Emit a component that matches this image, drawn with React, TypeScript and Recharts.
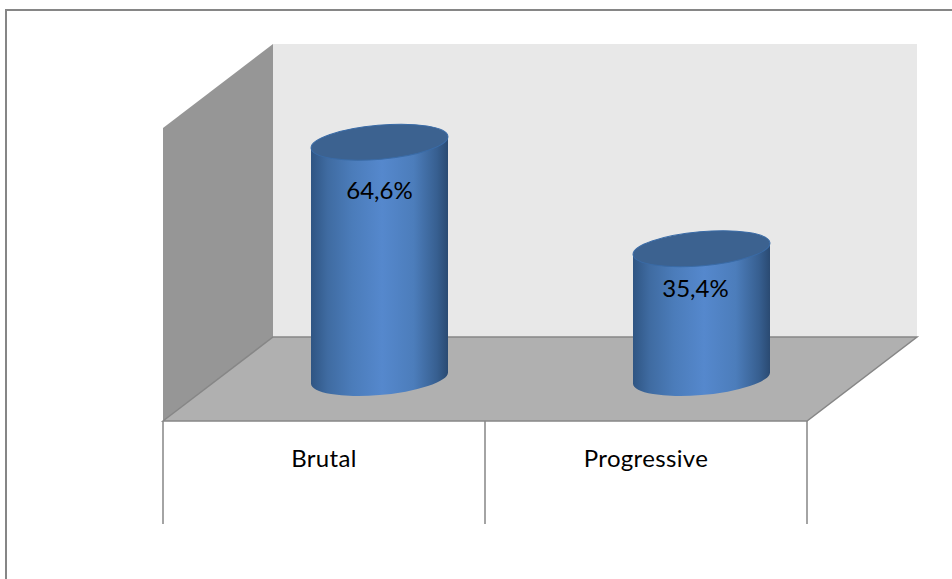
import { Bar, BarChart, Customized, LabelList, XAxis, YAxis } from "recharts";

const categories = ["Brutal", "Progressive"];
const shares = [64.6, 35.4];

const chartData = categories.map((name, i) => ({ name, share: shares[i] }));

const WIDTH = 952;
const HEIGHT = 579;

// the 3D box: front-left corner of the floor, its width, wall height and depth shift
const FRONT_X = 163;
const FRONT_Y = 421;
const BOX_W = 644;
const WALL_H = 293;
const DEPTH_X = 110;
const DEPTH_Y = 84;
const LINE = "#868686";

// bars stand halfway back on the floor, so the plot area sits at half the depth shift
const MARGIN = {
  top: FRONT_Y - DEPTH_Y / 2 - WALL_H,
  left: FRONT_X + DEPTH_X / 2,
  right: WIDTH - (FRONT_X + DEPTH_X / 2 + BOX_W),
  bottom: HEIGHT - (FRONT_Y - DEPTH_Y / 2),
};

function pts(list: number[][]) {
  return list.map((p) => p.join(",")).join(" ");
}

function Box() {
  const backX = FRONT_X + DEPTH_X;
  const backY = FRONT_Y - DEPTH_Y;
  const tickBottom = FRONT_Y + 103;
  return (
    <g>
      <defs>
        <linearGradient id="cylinderSide" x1="0" y1="0" x2="1" y2="0">
          <stop offset="0" stopColor="#2f5583" />
          <stop offset="0.12" stopColor="#3f6ba1" />
          <stop offset="0.3" stopColor="#4b7cba" />
          <stop offset="0.52" stopColor="#5588cd" />
          <stop offset="0.75" stopColor="#4c7dbb" />
          <stop offset="0.92" stopColor="#375f90" />
          <stop offset="1" stopColor="#2a4a72" />
        </linearGradient>
      </defs>
      {/* outer frame only shows on the top and left */}
      <line x1={5} x2={WIDTH} y1={10} y2={10} stroke={LINE} strokeWidth={2} />
      <line x1={6} x2={6} y1={9} y2={HEIGHT} stroke={LINE} strokeWidth={2} />
      <rect x={backX} y={backY - WALL_H} width={BOX_W} height={WALL_H} fill="#e8e8e8" />
      <polygon
        points={pts([
          [FRONT_X, FRONT_Y - WALL_H],
          [backX, backY - WALL_H],
          [backX, backY],
          [FRONT_X, FRONT_Y],
        ])}
        fill="#969696"
      />
      <polygon
        points={pts([
          [FRONT_X, FRONT_Y],
          [backX, backY],
          [backX + BOX_W, backY],
          [FRONT_X + BOX_W, FRONT_Y],
        ])}
        fill="#b0b0b0"
        stroke={LINE}
        strokeWidth={1.5}
      />
      {[0, 0.5, 1].map((t) => (
        <line
          key={t}
          x1={FRONT_X + BOX_W * t}
          x2={FRONT_X + BOX_W * t}
          y1={FRONT_Y}
          y2={tickBottom}
          stroke={LINE}
          strokeWidth={1.5}
        />
      ))}
    </g>
  );
}

// cylinder body with a slightly tilted elliptical cap
function Cylinder({ x, y, width, height }: any) {
  const rx = width / 2 + 0.2;
  const ry = 17;
  const tilt = -5;
  const skew = 5.6;
  const cx = x + width / 2;
  const left = x;
  const right = x + width;
  const base = y + height;
  const body = `M${left},${y + skew} L${left},${base + skew} A${rx},${ry} ${tilt} 0 0 ${right},${base - skew} L${right},${y - skew} Z`;
  return (
    <g>
      <path d={body} fill="url(#cylinderSide)" />
      <ellipse
        cx={cx}
        cy={y}
        rx={rx}
        ry={ry}
        transform={`rotate(${tilt} ${cx} ${y})`}
        fill="#3c6290"
        stroke="#3a6ba6"
        strokeWidth={1}
      />
    </g>
  );
}

const labelShift = [
  { dx: 0, dy: 47 },
  { dx: -6, dy: 39 },
];

function ShareLabel({ x, y, width, value, index }: any) {
  const shift = labelShift[index];
  return (
    <text
      x={x + width / 2 + shift.dx}
      y={y + shift.dy}
      textAnchor="middle"
      dominantBaseline="central"
      fontFamily="Lato"
      fontSize={24}
      fill="#000"
    >
      {`${value.toFixed(1).replace(".", ",")}%`}
    </text>
  );
}

function CategoryTick({ x, payload }: any) {
  return (
    <text
      x={x - DEPTH_X / 2}
      y={FRONT_Y + 36}
      textAnchor="middle"
      dominantBaseline="central"
      fontFamily="Lato"
      fontSize={24}
      letterSpacing={0.35}
      fill="#000"
    >
      {payload.value}
    </text>
  );
}

export default function App() {
  return (
    <div style={{ position: "absolute", left: 0, top: 0, width: WIDTH, height: HEIGHT, background: "#fff" }}>
      <BarChart width={WIDTH} height={HEIGHT} data={chartData} margin={MARGIN} barSize={137}>
        <Customized component={Box} />
        <XAxis
          dataKey="name"
          height={1}
          axisLine={false}
          tickLine={false}
          tick={<CategoryTick />}
          interval={0}
        />
        <YAxis hide domain={[0, 80]} />
        <Bar dataKey="share" shape={<Cylinder />} isAnimationActive={false}>
          <LabelList dataKey="share" content={<ShareLabel />} />
        </Bar>
      </BarChart>
    </div>
  );
}
